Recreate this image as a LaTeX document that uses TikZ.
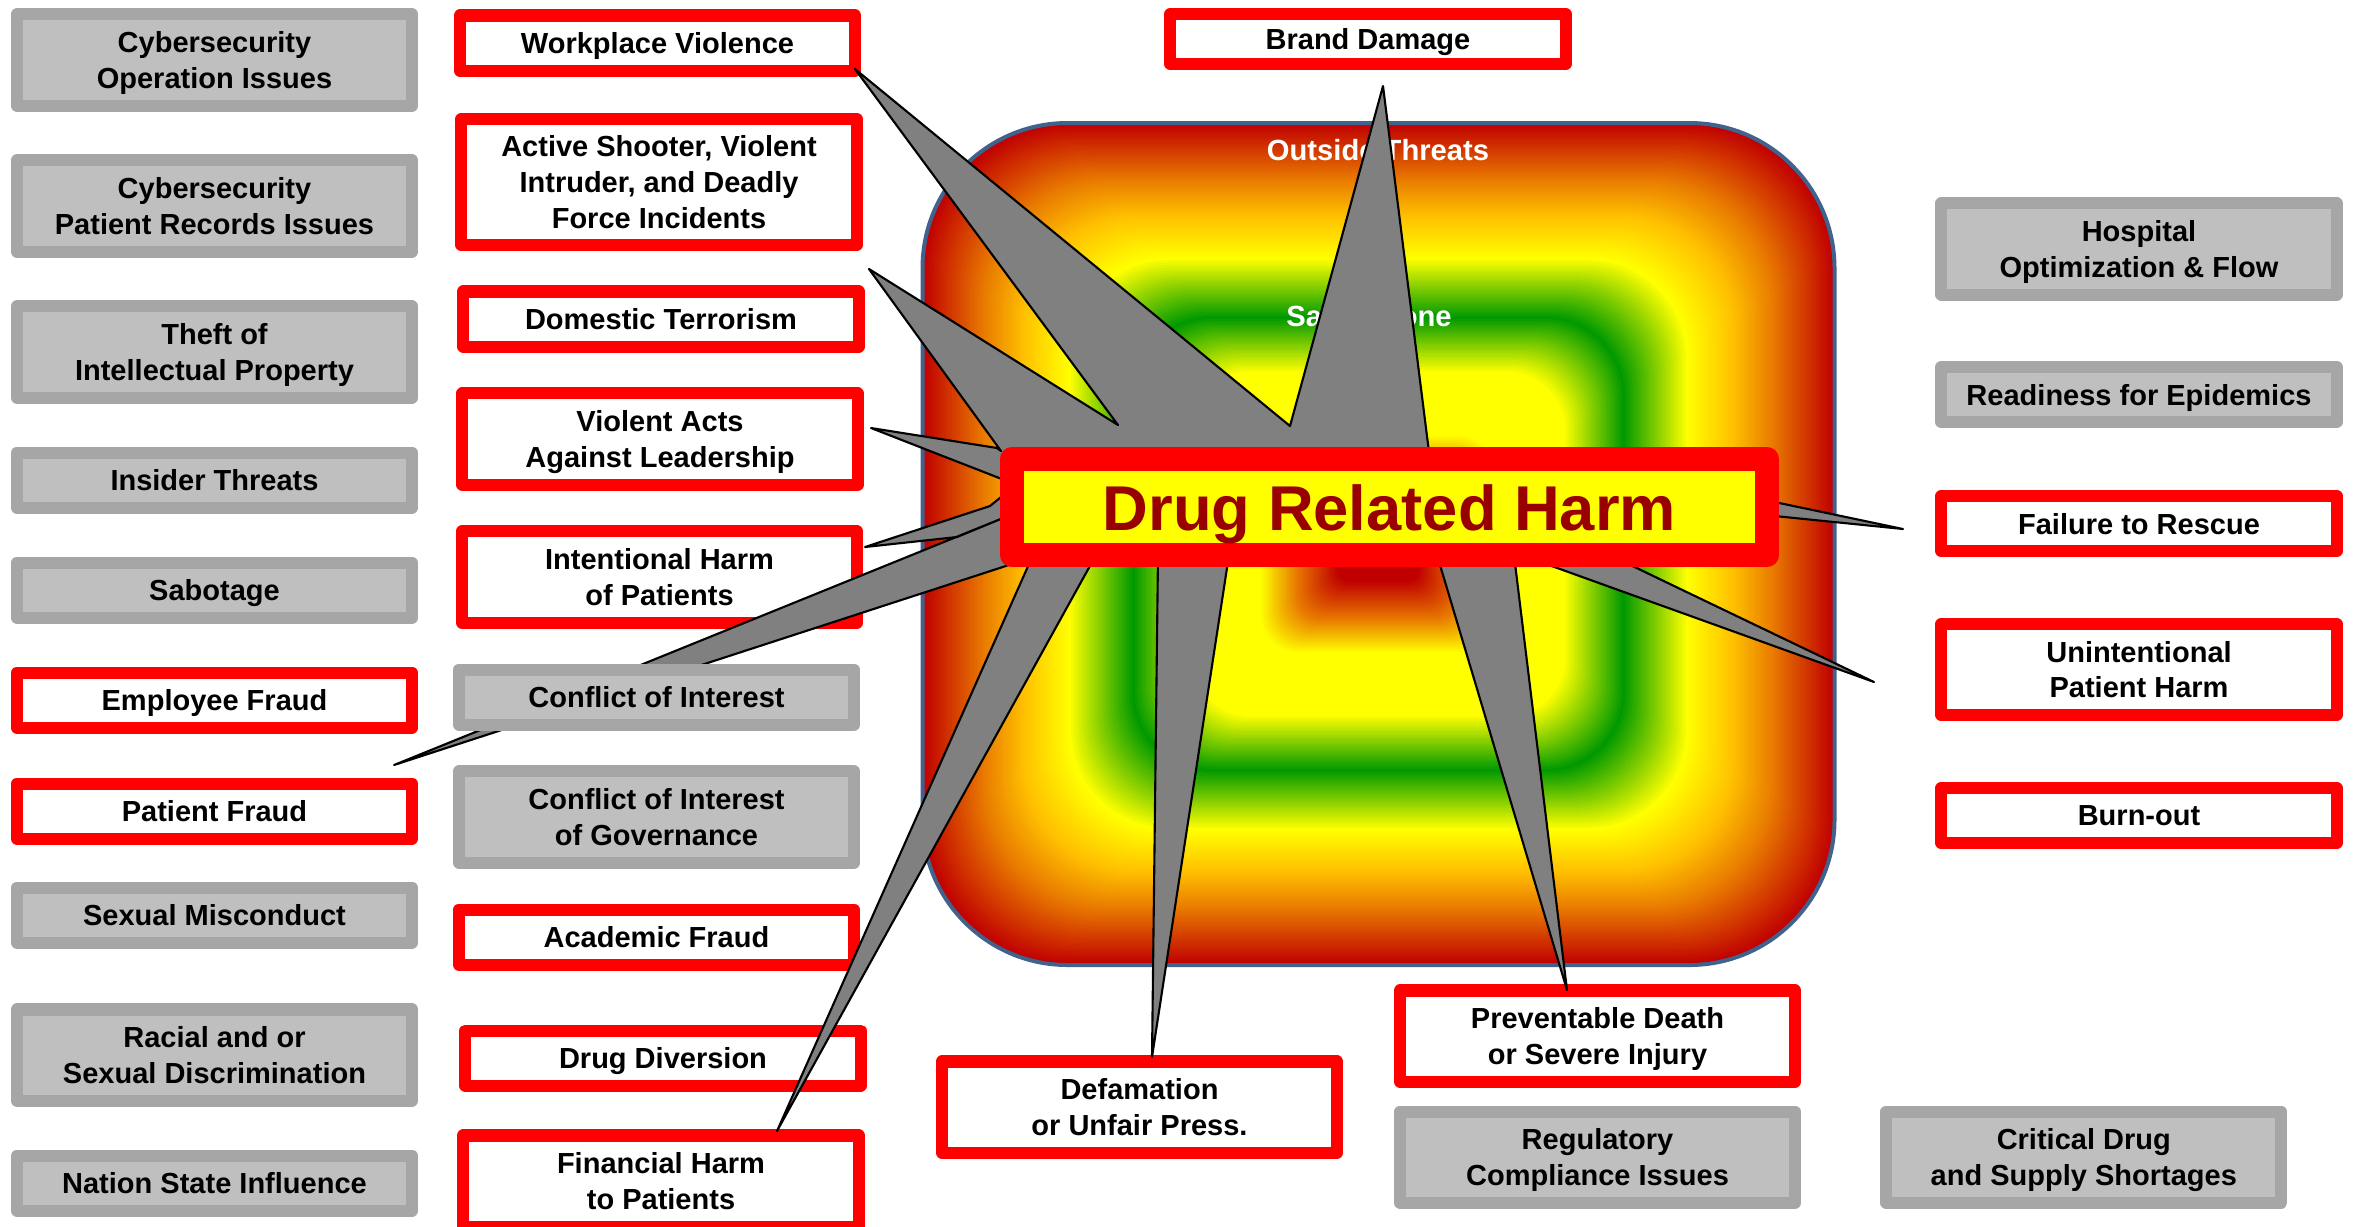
\documentclass[tikz,border=0pt]{standalone}
\usepackage{fontspec}
\setmainfont{Liberation Sans}
\usepackage{xcolor}
\usetikzlibrary{positioning, calc}

\definecolor{boxred}{RGB}{255,0,0}
\definecolor{boxedge}{RGB}{166,166,166}
\definecolor{boxfill}{RGB}{191,191,191}
\definecolor{spikegray}{RGB}{128,128,128}
\definecolor{harmred}{RGB}{153,0,0}
\definecolor{zoneedge}{RGB}{65,98,140}
\definecolor{zred}{RGB}{192,0,0}
\definecolor{zorange}{RGB}{232,120,0}
\definecolor{zgold}{RGB}{255,192,0}
\definecolor{zyellow}{RGB}{255,255,0}
\definecolor{zgreen}{RGB}{0,153,0}

\newcommand{\boxfont}{\fontsize{8.25}{10.2}\selectfont\bfseries}
% one band of the zone gradient: from t, to t, from colour, to colour
\newcommand{\zoneband}[4]{%
  \foreach \k in {0,...,24}{%
    \pgfmathsetmacro{\zt}{#1+(#2-#1)*\k/24}%
    \pgfmathsetmacro{\zp}{100*\k/24}%
    \pgfmathsetmacro{\zr}{1.45*\zt}%
    \colorlet{zonecol}{#4!\zp!#3}%
    \fill[zonecol, rounded corners=\zr cm]
      ($(zc)+(-456*\zt,-421*\zt)$) rectangle ($(zc)+(456*\zt,421*\zt)$);
  }}

\begin{document}
\begin{tikzpicture}[
    x=0.01cm, y=-0.01cm,
    box/.style={rectangle, line width=0.12cm, line join=round, minimum width=3.95cm, inner sep=0pt, text depth=0pt, align=center, font=\boxfont},
    redbox/.style={box, draw=boxred, fill=white},
    graybox/.style={box, draw=boxedge, fill=boxfill},
    oneline/.style={minimum height=0.55cm},
    twoline/.style={minimum height=0.91cm},
    threeline/.style={minimum height=1.26cm},
    zonelabel/.style={text=white, font=\fontsize{8.3}{10}\selectfont\bfseries},
    spike/.style={fill=spikegray, draw=black, line width=0.6pt, line join=round},
    harmbox/.style={rectangle, draw=boxred, fill=zyellow, line width=0.24cm, line join=round, minimum width=7.55cm, minimum height=0.96cm, inner sep=0pt, text height=13.6pt, text depth=0pt, text=harmred, font=\fontsize{18}{20}\selectfont\bfseries}
]
    \useasboundingbox (0,0) rectangle (2357,1226);

    % Zones
    \coordinate (zc) at (1378.5,544);
    \zoneband{1.00}{0.87}{zred}{zorange}
    \zoneband{0.87}{0.78}{zorange}{zgold}
    \zoneband{0.78}{0.68}{zgold}{zyellow}
    \zoneband{0.68}{0.54}{zyellow}{zgreen}
    \zoneband{0.54}{0.41}{zgreen}{zyellow}
    \zoneband{0.41}{0.26}{zyellow}{zyellow}
    \zoneband{0.26}{0.18}{zyellow}{zorange}
    \zoneband{0.18}{0.09}{zorange}{zred}
    \zoneband{0.09}{0.02}{zred}{zred}
    \draw[zoneedge, line width=0.04cm, rounded corners=1.45cm]
        ($(zc)+(-456,-421)$) rectangle ($(zc)+(456,421)$);
    \node[zonelabel] (outside) at (1378,150) {Outside Threats};
    \node[zonelabel] (safety) at (1369,319) {Safety Zone};

    % Left column
    \node[graybox, twoline] (cyberop) at (214.5,60) {Cybersecurity\\Operation Issues};
    \node[graybox, twoline] (cyberrec) at (214.5,206) {Cybersecurity\\Patient Records Issues};
    \node[graybox, twoline] (theft) at (214.5,352) {Theft of\\Intellectual Property};
    \node[graybox, oneline] (insider) at (214.5,480) {Insider Threats};
    \node[graybox, oneline] (sabotage) at (214.5,590) {Sabotage};
    \node[redbox, oneline] (empfraud) at (214.5,700) {Employee Fraud};
    \node[redbox, oneline] (patfraud) at (214.5,811) {Patient Fraud};
    \node[graybox, oneline] (sexual) at (214.5,915) {Sexual Misconduct};
    \node[graybox, twoline] (racial) at (214.5,1055) {Racial and or\\Sexual Discrimination};
    \node[graybox, oneline] (nation) at (214.5,1183) {Nation State Influence};

    % Second column
    \node[redbox, oneline] (workplace) at (657.5,43) {Workplace Violence};
    \node[redbox, threeline] (shooter) at (659,182) {Active Shooter, Violent\\Intruder, and Deadly\\Force Incidents};
    \node[redbox, oneline] (domestic) at (661,319) {Domestic Terrorism};
    \node[redbox, twoline] (violent) at (660,439) {Violent Acts\\Against Leadership};
    \node[redbox, twoline] (intharm) at (659.5,577) {Intentional Harm\\of Patients};
    \node[graybox, twoline] (coigov) at (656.5,817) {Conflict of Interest\\of Governance};
    \node[redbox, oneline] (academic) at (656.5,937) {Academic Fraud};
    \node[redbox, oneline] (diversion) at (663,1058) {Drug Diversion};
    \node[redbox, twoline] (finharm) at (661,1181) {Financial Harm\\to Patients};

    % Top and bottom
    \node[redbox, minimum height=0.50cm] (brand) at (1368,39) {Brand Damage};
    \node[redbox, twoline] (defam) at (1139.5,1107) {Defamation\\or Unfair Press.};
    \node[redbox, twoline] (prevent) at (1597.5,1036) {Preventable Death\\or Severe Injury};
    \node[graybox, twoline, below=0.18cm of prevent] (regul) {Regulatory\\Compliance Issues};
    \node[graybox, twoline, right=0.79cm of regul] (critical) {Critical Drug\\and Supply Shortages};

    % Right column
    \node[graybox, twoline] (hospital) at (2139,249) {Hospital\\Optimization \& Flow};
    \node[graybox, oneline] (readiness) at (2139,394.5) {Readiness for Epidemics};
    \node[redbox, oneline] (failure) at (2139,523.5) {Failure to Rescue};
    \node[redbox, twoline] (unintent) at (2139,669.5) {Unintentional\\Patient Harm};
    \node[redbox, oneline] (burnout) at (2139,815.5) {Burn-out};

    % Starburst
    \draw[spike] (1383,86) -- (1290,426) -- (855,69) -- (1118,425) -- (869,269)
        -- (1001,451) -- (997,448) -- (871,428) -- (1012,483) -- (1006,493)
        -- (990,506) -- (865,547) -- (957,537) -- (1008,516) -- (394,765)
        -- (1015,563) -- (1033,555) -- (777,1131) -- (1096,555) -- (1158,555)
        -- (1152,1057) -- (1229,555) -- (1437,555) -- (1567,990) -- (1514,555)
        -- (1535,560) -- (1874,682) -- (1620,560) -- (1765,515) -- (1903,529)
        -- (1765,500) -- (1430,460) -- cycle;
    \node[graybox, oneline] (coi) at (656.5,697) {Conflict of Interest};

    % Centre
    \node[harmbox] (harm) at (1389.5,507) {Drug Related Harm};
\end{tikzpicture}
\end{document}
